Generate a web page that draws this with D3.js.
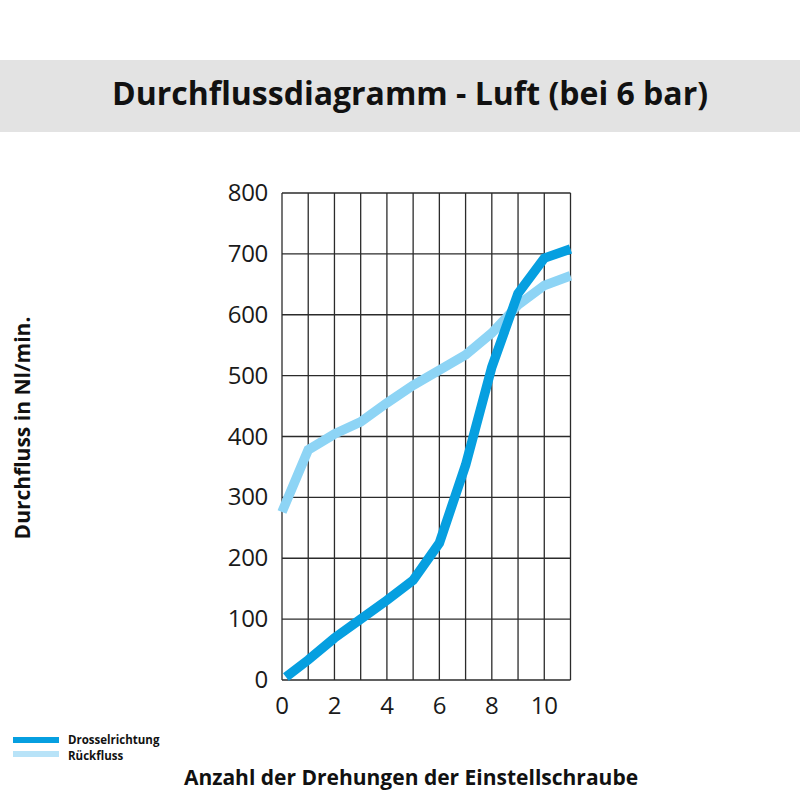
<!DOCTYPE html>
<html>
<head>
<meta charset="utf-8">
<script src="https://cdn.jsdelivr.net/npm/d3@7"></script>
<style>
  html, body { margin: 0; padding: 0; background: #fff; }
  svg { display: block; font-family: "Open Sans", sans-serif; }
</style>
</head>
<body>
<div id="chart"></div>
<script>
const TITLE = 'Durchflussdiagramm - Luft (bei 6 bar)';
const X_LABEL = 'Anzahl der Drehungen der Einstellschraube';
const Y_LABEL = 'Durchfluss in Nl/min.';

const SERIES_NAMES = ['Drosselrichtung', 'Rückfluss'];
const SERIES_COLORS = ['#069fe0', '#8dd4f5'];

// turns (x) and flow (Nl/min)
const drosselX = [0.15, 1, 2, 3, 4, 5, 6, 7, 8, 9, 10, 11];
const drosselY = [5, 33, 69, 100, 131, 164, 225, 353, 514, 635, 693, 708];
const rueckX = [0, 1, 2, 3, 4, 5, 6, 7, 8, 9, 10, 11];
const rueckY = [276, 378, 404, 424, 455, 484, 509, 534, 570, 616, 648, 664];

const xTicks = [0, 2, 4, 6, 8, 10];
const yTicks = [0, 100, 200, 300, 400, 500, 600, 700, 800];

const W = 800, H = 800;
const X0 = 282, X1 = 570.5, Y0 = 680, Y1 = 193;

const svg = d3.select('#chart').append('svg')
  .attr('width', W).attr('height', H)
  .attr('viewBox', `0 0 ${W} ${H}`);

// title band
svg.append('rect')
  .attr('x', 0).attr('y', 60).attr('width', W).attr('height', 72)
  .attr('fill', '#e3e3e3');
svg.append('text')
  .attr('x', 410).attr('y', 105)
  .attr('text-anchor', 'middle')
  .attr('font-size', 32).attr('font-weight', 700)
  .attr('fill', '#111')
  .text(TITLE);

const x = d3.scaleLinear().domain([0, 11]).range([X0, X1]);
const y = d3.scaleLinear().domain([0, 800]).range([Y0, Y1]);

// grid
const grid = svg.append('g').attr('stroke', '#2b2b2b').attr('stroke-width', 1.3);
grid.selectAll('.v').data(d3.range(0, 12)).join('line')
  .attr('x1', d => x(d)).attr('x2', d => x(d))
  .attr('y1', y(0)).attr('y2', y(800));
grid.selectAll('.h').data(yTicks).join('line')
  .attr('x1', x(0)).attr('x2', x(11))
  .attr('y1', d => y(d)).attr('y2', d => y(d));

// tick labels
svg.append('g').selectAll('text').data(yTicks).join('text')
  .attr('x', 268).attr('y', d => y(d) + 8)
  .attr('text-anchor', 'end')
  .attr('font-size', 24).attr('fill', '#1a1a1a')
  .attr('letter-spacing', -0.3)
  .text(d => d);
svg.append('g').selectAll('text').data(xTicks).join('text')
  .attr('x', d => x(d)).attr('y', 714)
  .attr('text-anchor', 'middle')
  .attr('font-size', 24).attr('fill', '#1a1a1a')
  .attr('letter-spacing', -0.3)
  .text(d => d);

// lines
const line = d3.line().x(d => x(d[0])).y(d => y(d[1]));
const series = [
  d3.zip(rueckX, rueckY),
  d3.zip(drosselX, drosselY)
];
const colors = [SERIES_COLORS[1], SERIES_COLORS[0]];
svg.append('g').selectAll('path').data(series).join('path')
  .attr('d', line)
  .attr('fill', 'none')
  .attr('stroke', (d, i) => colors[i])
  .attr('stroke-width', 9.5)
  .attr('stroke-linejoin', 'miter');

// axis titles
svg.append('text')
  .attr('transform', 'translate(30,428) rotate(-90)')
  .attr('text-anchor', 'middle')
  .attr('font-size', 21).attr('font-weight', 700)
  .attr('fill', '#111')
  .text(Y_LABEL);
svg.append('text')
  .attr('x', 411).attr('y', 785)
  .attr('text-anchor', 'middle')
  .attr('font-size', 21).attr('font-weight', 700)
  .attr('fill', '#111')
  .text(X_LABEL);

// legend
const legend = svg.append('g');
SERIES_NAMES.forEach((name, i) => {
  legend.append('rect')
    .attr('x', 13).attr('y', 737 + i * 14)
    .attr('width', 46).attr('height', 6)
    .attr('fill', i === 0 ? SERIES_COLORS[0] : '#b8e3f8');
  legend.append('text')
    .attr('x', 68).attr('y', 744 + i * 16)
    .attr('font-size', 11.5).attr('font-weight', 700)
    .attr('fill', '#111')
    .text(name);
});
</script>
</body>
</html>
